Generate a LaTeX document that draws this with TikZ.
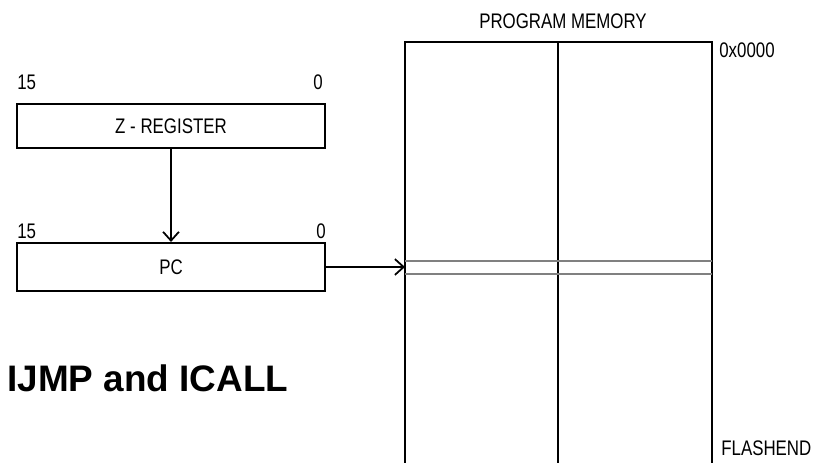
\documentclass[tikz,border=0pt]{standalone}
\usepackage{fontspec}
\setmainfont{Liberation Sans}
\newfontfamily\narrowfont{Liberation Sans}[FakeStretch=0.8]
\usetikzlibrary{arrows.meta}

\begin{document}
\begin{tikzpicture}[x=0.02cm,y=-0.02cm,
    >={Straight Barb[length=5pt,width=9pt]},
    reg/.style={draw,line width=1.2pt,minimum width=6.16cm,inner sep=0pt,
      font=\narrowfont\fontsize{12}{14}\selectfont},
    bit/.style={inner sep=0pt,font=\narrowfont\fontsize{12}{14}\selectfont},
    mem/.style={line width=1.2pt},
    slot/.style={gray,line width=1.3pt}]
  \useasboundingbox (0,0) rectangle (815,463);
  % registers
  \node[reg,minimum height=0.88cm] (zreg) at (171,126) {Z - REGISTER};
  \node[bit,anchor=south west] (zmsb) at (17,90) {15};
  \node[bit,anchor=south east] (zlsb) at (323,90) {0};
  \node[reg,minimum height=0.96cm] (pc) at (171,267) {PC};
  \node[bit,anchor=south west] (pcmsb) at (17,239) {15};
  \node[bit,anchor=south east] (pclsb) at (326,239) {0};
  \draw[->,line width=1pt] (zreg) -- (pc);
  % program memory, open at the bottom
  \draw[mem] (405,463) |- (712,42) -- (712,463);
  \draw[mem] (558,42) -- (558,463);
  \draw[slot] (405,261) -- (712,261);
  \draw[slot] (405,274) -- (712,274);
  \coordinate (entry) at (405,267);
  \draw[->,line width=1pt] (pc.east) -- (entry);
  \node[bit] (title) at (563,21) {PROGRAM MEMORY};
  \node[bit,anchor=west] (first) at (719,50) {0x0000};
  \node[bit,anchor=west] (last) at (721,448) {FLASHEND};
  % caption
  \node[inner sep=0pt,anchor=west,font=\bfseries\fontsize{21}{25}\selectfont] (caption) at (7,378) {IJMP and ICALL};
\end{tikzpicture}
\end{document}
